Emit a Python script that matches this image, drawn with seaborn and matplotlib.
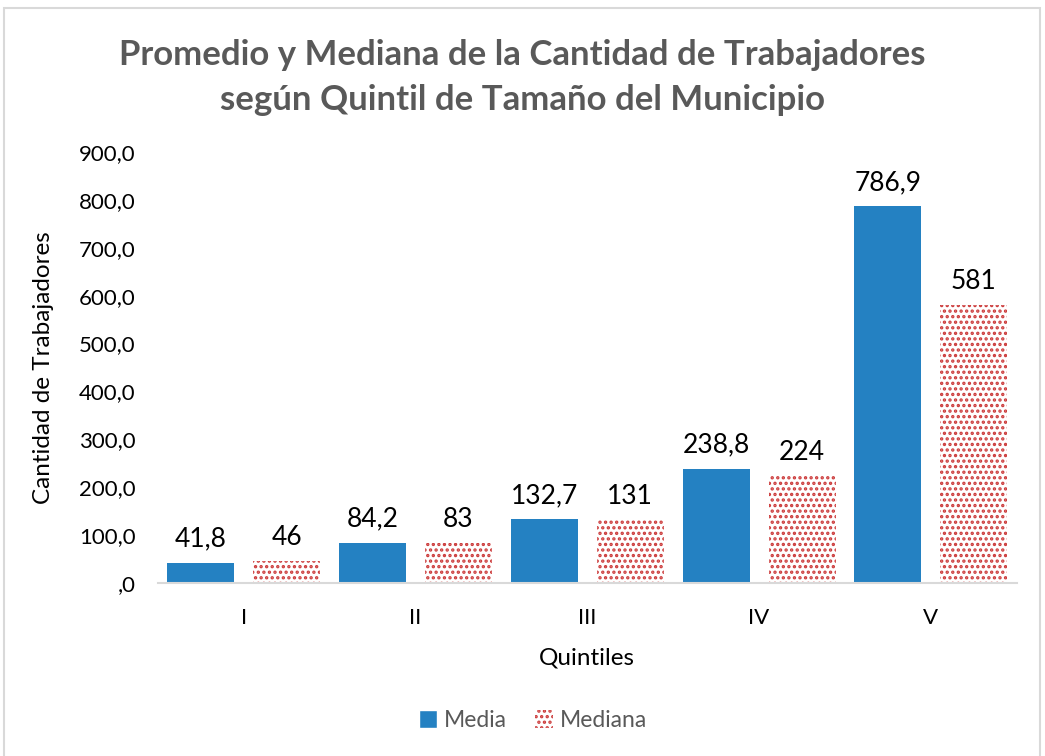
import pandas as pd
import numpy as np
import matplotlib.pyplot as plt
import seaborn as sns
from matplotlib.patches import Rectangle, Patch

# Data
quintiles = ["I", "II", "III", "IV", "V"]
media = [41.8, 84.2, 132.7, 238.8, 786.9]
mediana = [46, 83, 131, 224, 581]
media_labels = ["41,8", "84,2", "132,7", "238,8", "786,9"]
mediana_labels = ["46", "83", "131", "224", "581"]
y_ticks = [0, 100, 200, 300, 400, 500, 600, 700, 800, 900]
y_tick_labels = [",0", "100,0", "200,0", "300,0", "400,0", "500,0",
                 "600,0", "700,0", "800,0", "900,0"]

df = pd.DataFrame({
    "Quintil": quintiles * 2,
    "Valor": media + mediana,
    "Serie": ["Media"] * 5 + ["Mediana"] * 5,
})

blue = "#2481C2"
red = "#CC3B3B"

sns.set_style("white")
plt.rcParams['font.family'] = ['Lato', 'DejaVu Sans']
plt.rcParams['hatch.linewidth'] = 1.6

fig = plt.figure(figsize=(10.45, 7.56), dpi=100)
ax = fig.add_axes([0.151, 0.229, 0.822, 0.570])

sns.barplot(data=df, x="Quintil", y="Valor", hue="Serie",
            palette={"Media": blue, "Mediana": "white"}, saturation=1,
            width=1.0, gap=0.22, ax=ax, legend=False)

# style the Mediana bars with red dots
for bar in ax.containers[1]:
    bar.set_facecolor("white")
    bar.set_edgecolor(red)
    bar.set_hatch("...")
    bar.set_linewidth(0)
for bar in ax.containers[0]:
    bar.set_linewidth(0)

ax.bar_label(ax.containers[0], labels=media_labels, padding=8, fontsize=19, color="black")
ax.bar_label(ax.containers[1], labels=mediana_labels, padding=8, fontsize=19, color="black")

ax.set_ylim(0, 900)
ax.set_xlim(-0.5, 4.5)
ax.set_yticks(y_ticks)
ax.set_yticklabels(y_tick_labels, fontsize=16, color="black")
ax.tick_params(axis="x", labelsize=16, pad=18, length=0, labelcolor="black")
ax.tick_params(axis="y", length=0, pad=16)
for s in ["top", "right", "left"]:
    ax.spines[s].set_visible(False)
ax.spines["bottom"].set_color("#D9D9D9")
ax.spines["bottom"].set_linewidth(1.5)

ax.set_xlabel("Quintiles", fontsize=17.5, labelpad=14, color="black")
ax.set_ylabel("Cantidad de Trabajadores", fontsize=17.5, labelpad=18, color="black")

fig.text(0.5, 0.927, "Promedio y Mediana de la Cantidad de Trabajadores",
         ha="center", va="center", fontsize=25, fontweight="bold", color="#595959")
fig.text(0.5, 0.868, "según Quintil de Tamaño del Municipio",
         ha="center", va="center", fontsize=25, fontweight="bold", color="#595959")

# legend
handles = [Patch(facecolor=blue, label="Media"),
           Patch(facecolor="white", edgecolor=red, hatch="...", linewidth=0, label="Mediana")]
fig.legend(handles=handles, loc="center", bbox_to_anchor=(0.51, 0.047), ncol=2,
           frameon=False, fontsize=16.5, handlelength=0.8, handleheight=0.8,
           columnspacing=1.2, handletextpad=0.3, labelcolor="#595959")

# chart border
fig.patches.append(Rectangle((0.004, -0.01), 0.991, 0.999, transform=fig.transFigure,
                             fill=False, edgecolor="#D9D9D9", linewidth=1.5))

fig.savefig("out.png", dpi=100)
